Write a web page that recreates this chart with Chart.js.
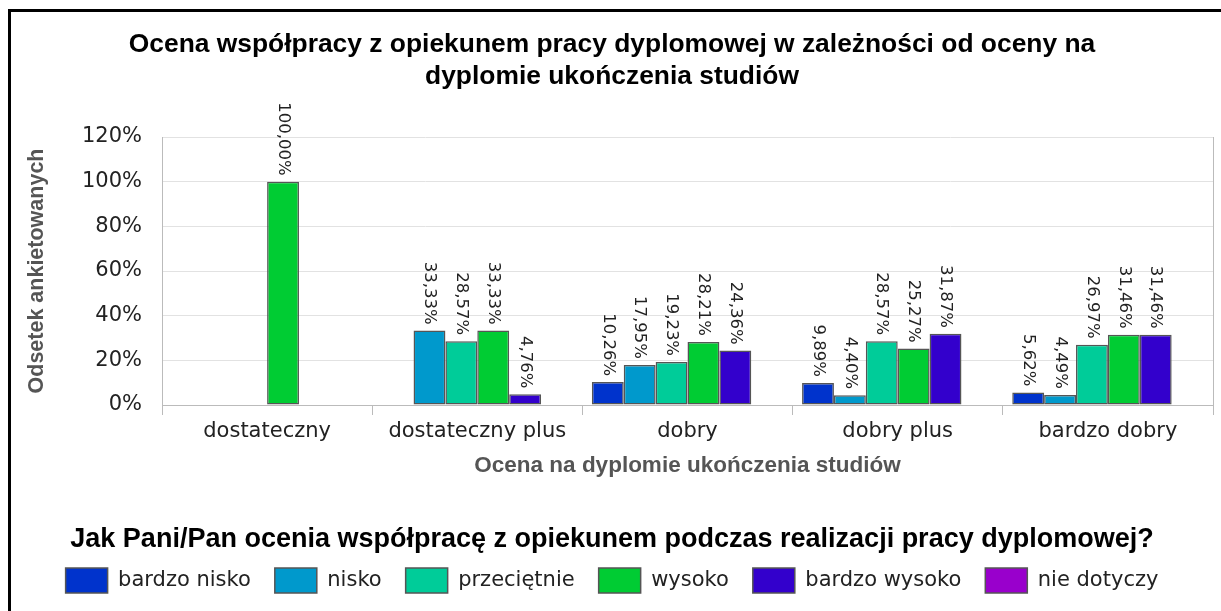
<!DOCTYPE html>
<html lang="pl">
<head>
<meta charset="utf-8">
<title>Ocena współpracy z opiekunem</title>
<script src="https://cdn.jsdelivr.net/npm/chart.js@4.4.1/dist/chart.umd.min.js"></script>
<style>
  html, body { margin: 0; padding: 0; background: #fff; overflow: hidden; }
  #frame {
    position: absolute; left: 8px; top: 9px;
    width: 1210px; height: 599px;
    border-left: 3px solid #000; border-top: 3px solid #000;
  }
  canvas { display: block; }
</style>
</head>
<body>
<div id="frame"><canvas id="chart"></canvas></div>
<script>
// dane
const categories = ['dostateczny', 'dostateczny plus', 'dobry', 'dobry plus', 'bardzo dobry'];
const seriesNames = ['bardzo nisko', 'nisko', 'przeciętnie', 'wysoko', 'bardzo wysoko', 'nie dotyczy'];
const bardzoNisko = [null, null, 10.26, 9.89, 5.62];
const nisko = [null, 33.33, 17.95, 4.40, 4.49];
const przecietnie = [null, 28.57, 19.23, 28.57, 26.97];
const wysoko = [100.00, 33.33, 28.21, 25.27, 31.46];
const bardzoWysoko = [null, 4.76, 24.36, 31.87, 31.46];
const nieDotyczy = [null, null, null, null, null];
const yTicks = [0, 20, 40, 60, 80, 100, 120];

const seriesValues = [bardzoNisko, nisko, przecietnie, wysoko, bardzoWysoko, nieDotyczy];
const colors = ['#0033cc', '#0099cc', '#00cc99', '#00cc33', '#3300cc', '#9900cc'];

const fmt = v => v.toFixed(2).replace('.', ',') + '%';

// etykiety wartości nad słupkami, obrócone o 90°
const valueLabels = {
    id: 'valueLabels',
    afterDatasetsDraw(chart) {
        const ctx = chart.ctx;
        ctx.save();
        ctx.font = '16.5px "DejaVu Sans"';
        ctx.fillStyle = '#222';
        ctx.textAlign = 'right';
        ctx.textBaseline = 'middle';
        chart.data.datasets.forEach((ds, i) => {
            chart.getDatasetMeta(i).data.forEach((bar, j) => {
                const v = ds.data[j];
                if (v == null) return;
                ctx.save();
                ctx.translate(bar.x, bar.y - 6);
                ctx.rotate(Math.PI / 2);
                ctx.fillText(fmt(v), 0, 0);
                ctx.restore();
            });
        });
        ctx.restore();
    }
};

const ticksFont = { family: 'DejaVu Sans', size: 21 };
const boldFont = size => ({ family: 'Liberation Sans', size, weight: 'bold' });

new Chart(document.getElementById('chart'), {
    type: 'bar',
    data: {
        labels: categories,
        datasets: seriesNames.map((name, i) => ({
            label: name,
            data: seriesValues[i],
            backgroundColor: colors[i],
            borderColor: '#555',
            borderWidth: 1.5,
            borderSkipped: false,
            barPercentage: 1,
            categoryPercentage: 0.91
        }))
    },
    options: {
        responsive: true,
        maintainAspectRatio: false,
        animation: false,
        layout: { padding: { left: 0, right: 8, top: 0, bottom: 8 } },
        plugins: {
            title: {
                display: true,
                text: ['Ocena współpracy z opiekunem pracy dyplomowej w zależności od oceny na', 'dyplomie ukończenia studiów'],
                color: '#000',
                font: { family: 'Liberation Sans', size: 26.4, weight: 'bold', lineHeight: 32 / 26.4 },
                padding: { top: 17, bottom: 44 }
            },
            legend: {
                position: 'bottom',
                labels: { boxWidth: 42, boxHeight: 25, padding: 24, color: '#222', font: ticksFont },
                title: {
                    display: true,
                    text: 'Jak Pani/Pan ocenia współpracę z opiekunem podczas realizacji pracy dyplomowej?',
                    color: '#000',
                    font: { family: 'Liberation Sans', size: 27, weight: 'bold', lineHeight: 18 / 27 },
                    padding: 0
                }
            },
            tooltip: { enabled: false }
        },
        scales: {
            x: {
                grid: { offset: true, drawOnChartArea: false, drawTicks: true, tickLength: 10, color: '#bbb' },
                border: { color: '#bbb' },
                ticks: { font: ticksFont, color: '#222', padding: 4 },
                title: { display: true, text: 'Ocena na dyplomie ukończenia studiów', color: '#555', font: boldFont(22.5), padding: 47 },
                afterFit(scale) { scale.height = 121; }
            },
            y: {
                min: 0,
                max: 120,
                afterBuildTicks(scale) { scale.ticks = yTicks.map(v => ({ value: v })); },
                ticks: { font: ticksFont, color: '#222', padding: 20, callback: v => v + '%' },
                grid: { color: '#e2e2e2', drawTicks: false },
                border: { color: '#bbb' },
                title: { display: true, text: 'Odsetek ankietowanych', color: '#555', font: boldFont(21.5), padding: { top: 13, bottom: 0 } },
                afterFit(scale) { scale.width = 151; }
            },
            y2: {
                position: 'right',
                min: 0,
                max: 120,
                ticks: { display: false },
                grid: { display: false, drawTicks: false },
                border: { display: true, color: '#bbb' }
            }
        }
    },
    plugins: [valueLabels]
});
</script>
</body>
</html>
